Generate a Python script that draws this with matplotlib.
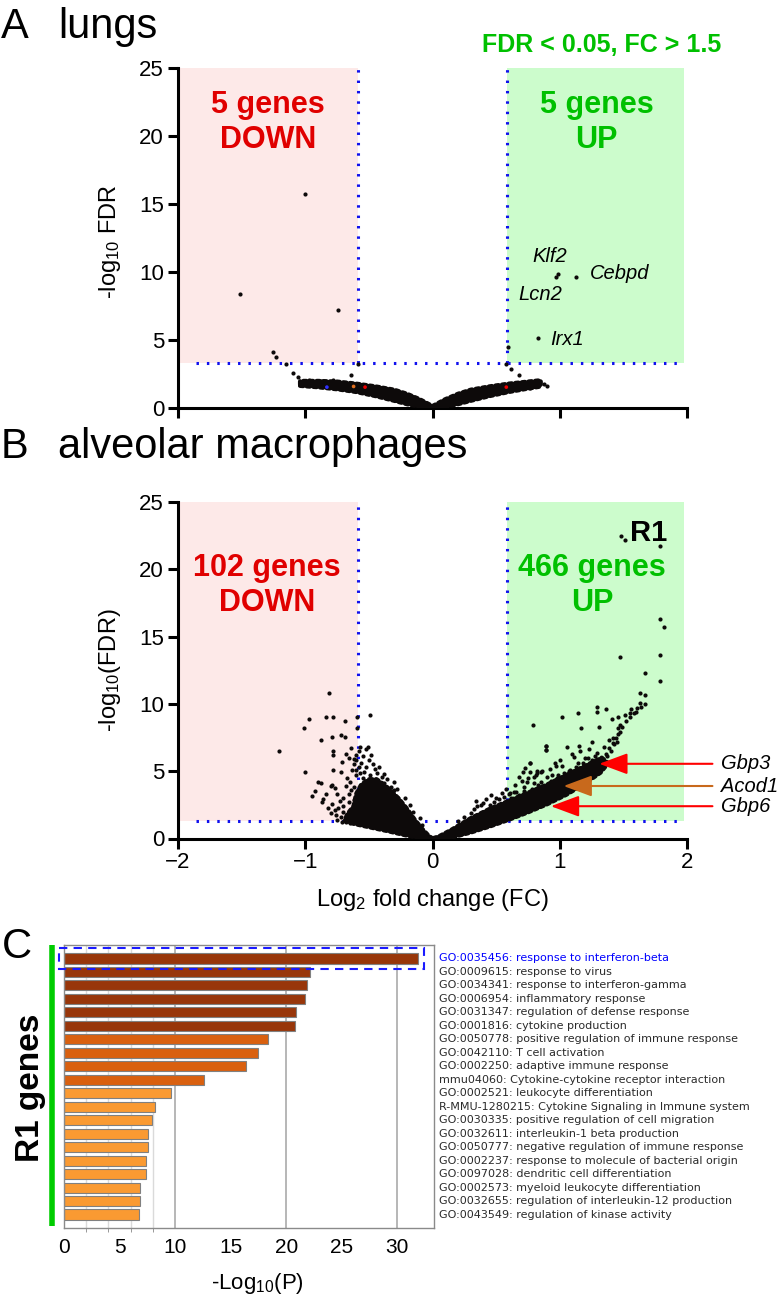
import matplotlib.pyplot as plt
from matplotlib.patches import Rectangle

plt.rcParams['font.family'] = ['Liberation Sans', 'DejaVu Sans']
plt.rcParams['mathtext.fontset'] = 'custom'
plt.rcParams['mathtext.rm'] = 'Liberation Sans'
plt.rcParams['mathtext.it'] = 'Liberation Sans:italic'

W, H = 779, 1301

fc_cut = 0.585      # log2(1.5)
thr_a = 3.25        # FDR cut, panel A
thr_b = 1.3         # FDR cut, panel B

# ---------------- panel A: lungs ----------------
a_core_x = [-1.04, -0.9, -0.75, -0.6, -0.45, -0.3, -0.2, -0.1, 0.0,
            0.1, 0.2, 0.3, 0.45, 0.6, 0.75, 0.85]
a_core_lo = [1.6, 1.5, 1.35, 1.15, 0.85, 0.5, 0.25, 0.05, 0.0,
             0.05, 0.25, 0.5, 0.85, 1.15, 1.4, 1.55]
a_core_hi = [1.95, 1.95, 1.9, 1.75, 1.55, 1.3, 1.0, 0.6, 0.1,
             0.6, 1.0, 1.3, 1.55, 1.75, 1.9, 2.0]
a_x = [-1.51, -1.0, -0.745, -1.257, -1.23, -1.15, -0.588, -1.10, -1.06, -0.644,
       -1.04, -0.97, -0.88, -0.78,
       0.974, 0.985, 1.131, 0.83, 0.594, 0.581, 0.62, 0.683,
       0.76, 0.77, 0.82, 0.88, 0.9]
a_y = [8.38, 15.72, 7.2, 4.06, 3.75, 3.19, 3.19, 2.52, 2.27, 2.39,
       1.9, 2.0, 1.95, 2.05,
       9.63, 9.81, 9.59, 5.14, 4.48, 3.2, 2.83, 2.36,
       1.8, 1.45, 1.6, 1.75, 1.6]
a_col_x = [-0.83, -0.62, -0.53, 0.58]
a_col_y = [1.5, 1.55, 1.5, 1.5]
a_col_c = ['#3030ff', '#e07020', '#ee0000', '#ee0000']
a_genes = ['Klf2', 'Lcn2', 'Cebpd', 'Irx1']

# ---------------- panel B: alveolar macrophages ----------------
b_left_core_x = [0.0, -0.1, -0.2, -0.35, -0.5, -0.62, -0.69, -0.67, -0.62, -0.6,
                 -0.56, -0.5, -0.44, -0.38, -0.32, -0.26, -0.2, -0.14, -0.08, -0.03]
b_left_core_y = [0.0, 0.03, 0.22, 0.55, 0.85, 1.1, 1.3, 1.8, 2.4, 3.3,
                 4.0, 4.4, 4.4, 4.0, 3.5, 2.9, 2.2, 1.4, 0.7, 0.2]
b_right_core_x = [0.0, 0.15, 0.3, 0.45, 0.6, 0.75, 0.9, 1.05, 1.2, 1.32, 1.38,
                  1.33, 1.2, 1.05, 0.9, 0.75, 0.6, 0.45, 0.3, 0.15, 0.05]
b_right_core_y = [0.0, 0.08, 0.45, 0.9, 1.4, 1.95, 2.55, 3.25, 4.1, 4.9, 5.6,
                  6.0, 5.4, 4.7, 4.0, 3.4, 2.8, 2.2, 1.5, 0.65, 0.15]

b_x = [-0.81, -0.97, -0.84, -0.78, -0.69, -1.01, -0.49, -0.59, -0.59, -0.88,
       -0.79, -0.72, -0.69, -1.21, -0.78, -0.78, -0.64, -0.51, -0.52, -1.0,
       -0.78, -0.90, -0.88, -0.79, -0.77, -0.95, -0.86, -0.87, -0.8, -0.79,
       -0.77, -0.76, -0.71, -0.68, -0.57, -0.72, -0.67, -0.64, -0.62, -0.64,
       -0.72, -0.69, -0.54, -0.49, -0.44, -0.38, -0.33, -0.41, -0.35, -0.32,
       -0.66, -0.62, -0.6, -0.58, -0.56, -0.63, -0.6, -0.55, -0.52, -0.47,
       -0.45, -0.4, -0.36, -0.3, -0.27, -0.25, -0.22, -0.7, -0.7, -0.73,
       -0.66, -0.68, -0.75, -0.71, -0.68, -0.65,
       -0.6, -0.58, -0.62, -0.55, -0.6, -0.57, -0.65, -0.62, -0.66, -0.7,
       -0.74, -0.8, -0.82, -0.84, -0.92, -0.75, -0.5, -0.48, -0.42, -0.38,
       -0.3, -0.28, -0.22, -0.18, -0.15, -0.1, -0.08,
       1.485, 1.51, 1.79, 1.79, 1.82, 1.47, 1.79, 1.67, 1.79, 1.63,
       1.67, 1.67, 1.64, 1.56, 1.6, 1.55, 1.51, 1.46, 1.41, 1.31,
       1.36, 1.29, 1.29, 1.146, 1.02, 0.79, 1.17, 1.46, 1.47, 1.46,
       1.42, 1.39, 1.35, 0.89, 0.89, 1.06, 1.16, 1.23, 1.29, 0.77,
       0.73, 0.77, 0.82, 0.81, 0.96, 1.02, 0.9, 0.94, 1.11, 1.14,
       1.22, 1.07, 0.99, 0.72, 0.66, 0.61, 0.85,
       0.34, 0.4, 0.48, 0.56, 0.64, 0.71, 0.77, 0.82, 0.85, 0.89,
       0.89, 0.74, 0.8, 0.85, 0.9,
       1.33, 1.36, 1.39, 1.42, 1.44, 1.47, 1.49, 1.52, 1.55, 1.58,
       1.61, 1.63, 1.43, 1.45, 1.37, 1.4,
       0.35, 0.45, 0.52, 0.5, 0.62, 0.68, 0.72, 0.78, 0.83, 0.93,
       0.98, 1.03, 1.08, 1.13, 1.18, 1.25, 1.28, 1.2,
       0.2, 0.25, 0.3, 0.33, 0.38, 0.42, 0.46, 0.5, 0.55, 0.58,
       0.6, 0.65, 0.7, 0.75, 0.8, 0.86, 0.92, 0.97, 1.0, 1.1,
       1.15, 1.25, 0.68]
b_y = [10.8, 8.86, 8.99, 8.99, 8.74, 8.19, 9.15, 8.99, 8.19, 7.32,
       7.57, 7.7, 7.52, 6.51, 6.53, 6.21, 6.75, 6.83, 6.63, 4.92,
       5.09, 4.22, 4.1, 3.97, 3.73, 3.16, 2.9, 2.74, 3.9, 2.6,
       2.12, 1.75, 5.7, 6.3, 6.83, 4.97, 4.47, 3.6, 2.86, 2.12,
       1.62, 1.43, 4.97, 4.72, 4.85, 4.1, 3.85, 3.6, 3.35, 3.1,
       6.0, 5.5, 5.8, 5.3, 5.6, 5.1, 4.7, 4.5, 5.3, 5.5,
       5.2, 4.6, 4.4, 3.6, 3.0, 2.6, 2.2, 2.4, 3.0, 2.8,
       3.3, 3.9, 1.4, 1.25, 1.2, 1.15,
       6.2, 6.5, 5.9, 6.1, 5.1, 4.9, 4.2, 3.8, 2.7, 2.0,
       2.3, 1.9, 2.3, 3.3, 3.5, 3.3, 5.8, 6.2, 5.3, 4.8,
       4.2, 3.7, 3.0, 2.5, 2.0, 1.5, 1.0,
       22.44, 22.2, 21.75, 16.3, 15.75, 13.52, 13.64, 12.33, 11.73, 10.79,
       10.67, 10.0, 9.8, 9.6, 9.38, 9.31, 9.18, 9.0, 8.91, 8.31,
       9.6, 9.8, 9.43, 9.31, 9.06, 8.44, 8.24, 8.19, 8.44, 7.8,
       7.45, 7.32, 6.82, 6.9, 6.58, 6.82, 6.53, 6.65, 6.33, 5.64,
       5.26, 4.97, 5.04, 4.72, 5.59, 5.41, 4.6, 4.72, 6.08, 5.59,
       5.96, 5.0, 4.75, 3.85, 3.47, 3.35, 4.21,
       2.79, 2.62, 2.74, 3.11, 3.48, 4.97, 5.6, 4.85, 4.97, 6.87,
       6.58, 4.23, 4.1, 3.85, 3.35,
       5.9, 6.3, 6.7, 7.1, 7.5, 7.9, 8.3, 8.7, 9.0, 9.3,
       9.7, 10.1, 7.0, 7.2, 6.1, 6.5,
       2.4, 2.5, 2.9, 2.3, 3.0, 3.2, 3.5, 3.7, 4.0, 4.3,
       4.5, 4.9, 5.1, 5.3, 5.6, 5.8, 6.1, 6.0,
       1.3, 1.6, 1.9, 2.2, 2.5, 2.9, 3.2, 3.0, 3.4, 3.7,
       3.3, 4.0, 4.3, 4.5, 4.6, 5.0, 5.2, 5.4, 5.8, 6.3,
       6.9, 7.2, 4.6]

arrow_genes = ['Gbp3', 'Acod1', 'Gbp6']
arrow_x = [1.31, 1.03, 0.93]
arrow_y = [5.55, 3.9, 2.4]
arrow_col = ['#ff0000', '#c8691c', '#ff0000']

# ---------------- panel C: enrichment of R1 genes ----------------
go_terms = [
    'GO:0035456: response to interferon-beta',
    'GO:0009615: response to virus',
    'GO:0034341: response to interferon-gamma',
    'GO:0006954: inflammatory response',
    'GO:0031347: regulation of defense response',
    'GO:0001816: cytokine production',
    'GO:0050778: positive regulation of immune response',
    'GO:0042110: T cell activation',
    'GO:0002250: adaptive immune response',
    'mmu04060: Cytokine-cytokine receptor interaction',
    'GO:0002521: leukocyte differentiation',
    'R-MMU-1280215: Cytokine Signaling in Immune system',
    'GO:0030335: positive regulation of cell migration',
    'GO:0032611: interleukin-1 beta production',
    'GO:0050777: negative regulation of immune response',
    'GO:0002237: response to molecule of bacterial origin',
    'GO:0097028: dendritic cell differentiation',
    'GO:0002573: myeloid leukocyte differentiation',
    'GO:0032655: regulation of interleukin-12 production',
    'GO:0043549: regulation of kinase activity',
]
go_logp = [31.9, 22.1, 21.9, 21.7, 20.9, 20.8, 18.4, 17.5, 16.4, 12.6,
           9.64, 8.2, 7.96, 7.6, 7.6, 7.4, 7.4, 6.87, 6.8, 6.72]
go_group = [0] * 6 + [1] * 4 + [2] * 10
group_col = ['#98360a', '#d9600f', '#fa9a32']

pink = '#fde9e8'
green_bg = '#ccfccc'
red_txt = '#e00000'
green_txt = '#00c000'
blue_dot = '#1010ee'
ink = '#0d0a0a'


def rect(l, t, r, b):
    return [l / W, 1 - b / H, (r - l) / W, (b - t) / H]


def volcano_axes(ax, thr):
    ax.set_xlim(-2, 2)
    ax.set_ylim(0, 25)
    for s in ['top', 'right']:
        ax.spines[s].set_visible(False)
    for s in ['left', 'bottom']:
        ax.spines[s].set_linewidth(2.2)
    ax.tick_params(width=2.2, length=7, labelsize=16, pad=3)
    ax.set_xticks([-2, -1, 0, 1, 2])
    ax.set_yticks([0, 5, 10, 15, 20, 25])
    ax.fill_between([-2, -fc_cut], thr, 25, color=pink, lw=0, zorder=0)
    ax.fill_between([fc_cut, 1.98], thr, 25, color=green_bg, lw=0, zorder=0)
    dots = dict(color=blue_dot, lw=2.2, linestyle=(0, (0.8, 2.6)), zorder=2)
    ax.plot([-1.86, 1.92], [thr, thr], **dots)
    ax.plot([-fc_cut, -fc_cut], [thr, 25], **dots)
    ax.plot([fc_cut, fc_cut], [thr, 25], **dots)


def cloud(ax, xs, ys):
    # dense point mass: solid body with a speckled rim
    ax.fill(xs, ys, color=ink, lw=0, zorder=3)
    ax.plot(list(xs) + [xs[0]], list(ys) + [ys[0]], color=ink, lw=3.2,
            linestyle=(0, (0.7, 0.8)), dash_capstyle='round', zorder=3)


fig = plt.figure(figsize=(W / 100, H / 100), dpi=100)

# ---- A ----
ax_a = fig.add_axes(rect(178, 68, 687, 407.5))
volcano_axes(ax_a, thr_a)
ax_a.set_xticklabels([])
cloud(ax_a, a_core_x + a_core_x[::-1], a_core_lo + a_core_hi[::-1])
ax_a.scatter(a_x, a_y, s=9, color=ink, lw=0, zorder=4)
ax_a.scatter(a_col_x, a_col_y, s=7, color=a_col_c, lw=0, zorder=5)
for g, gx, gy in zip(a_genes, [0.92, 0.845, 1.47, 1.06], [11.1, 8.3, 9.9, 5.0]):
    ax_a.text(gx, gy, g, style='italic', fontsize=14.5, ha='center', va='center')
ax_a.text(-1.29, 21.0, '5 genes\nDOWN', color=red_txt, fontsize=22,
          fontweight='bold', ha='center', va='center')
ax_a.text(1.29, 21.0, '5 genes\nUP', color=green_txt, fontsize=22,
          fontweight='bold', ha='center', va='center')

fig.text(1 / W, 1 - 38 / H, 'A', fontsize=30, va='baseline')
fig.text(58 / W, 1 - 38 / H, 'lungs', fontsize=30, va='baseline')
fig.text(602 / W, 1 - 45 / H, 'FDR < 0.05, FC > 1.5', color=green_txt,
         fontsize=18, fontweight='bold', ha='center', va='center')
fig.text(110 / W, 1 - 242 / H, r'-log$_{\mathregular{10}}$ FDR', fontsize=17,
         rotation=90, ha='center', va='center')

# ---- B ----
ax_b = fig.add_axes(rect(178, 502, 687, 838.5))
volcano_axes(ax_b, thr_b)
cloud(ax_b, b_left_core_x, b_left_core_y)
cloud(ax_b, b_right_core_x, b_right_core_y)
ax_b.scatter(b_x, b_y, s=9, color=ink, lw=0, zorder=4)
ax_b.text(-1.3, 18.8, '102 genes\nDOWN', color=red_txt, fontsize=22,
          fontweight='bold', ha='center', va='center')
ax_b.text(1.255, 18.8, '466 genes\nUP', color=green_txt, fontsize=22,
          fontweight='bold', ha='center', va='center')
ax_b.text(1.70, 22.7, 'R1', fontsize=21, fontweight='bold', ha='center',
          va='center', zorder=6)
for g, gx, gy, c in zip(arrow_genes, arrow_x, arrow_y, arrow_col):
    ax_b.annotate('', xy=(gx, gy), xytext=(2.2, gy),
                  arrowprops=dict(arrowstyle='-|>,head_length=1.75,head_width=0.65',
                                  color=c, lw=1.5, shrinkA=0, shrinkB=0,
                                  mutation_scale=10),
                  annotation_clip=False, zorder=6)
    ax_b.text(2.27, gy, g, style='italic', fontsize=14.5, ha='left',
              va='center', clip_on=False)

fig.text(1 / W, 1 - 458 / H, 'B', fontsize=30, va='baseline')
fig.text(58 / W, 1 - 458 / H, 'alveolar macrophages', fontsize=30, va='baseline')
fig.text(110 / W, 1 - 670 / H, r'-log$_{\mathregular{10}}$(FDR)', fontsize=17,
         rotation=90, ha='center', va='center')
fig.text(432 / W, 1 - 900 / H, r'Log$_{\mathregular{2}}$ fold change (FC)',
         fontsize=17, ha='center', va='center')

# ---- C ----
ax_c = fig.add_axes(rect(64, 945, 434, 1228))
ypos = list(range(len(go_terms)))
for gx in [2, 4, 6, 8]:
    ax_c.axvline(gx, color='#dadada', lw=1.0, zorder=0)
for gx in [10, 20, 30]:
    ax_c.axvline(gx, color='#aaaaaa', lw=1.2, zorder=0)
ax_c.barh(ypos, go_logp, height=0.75, color=[group_col[g] for g in go_group],
          edgecolor='#808080', lw=0.8, zorder=2)
ax_c.set_xlim(0, 33.3)
ax_c.set_ylim(20.0, -1.0)
ax_c.set_yticks([])
ax_c.set_xticks([0, 5, 10, 15, 20, 25, 30])
ax_c.set_xticks([0, 2, 4, 6, 8, 10, 20, 30], minor=True)
ax_c.tick_params(axis='x', which='major', length=0, labelsize=15, pad=7)
ax_c.tick_params(axis='x', which='minor', length=3, color='#888888')
for s in ax_c.spines.values():
    s.set_color('#8a8a8a')
    s.set_linewidth(1.0)
ax_c.add_patch(Rectangle((-0.45, -0.78), 32.85, 1.56, fill=False,
                         edgecolor='#1a1aff', lw=1.5, ls=(0, (4, 3)),
                         clip_on=False, zorder=5))
ax_c.plot([-0.032, -0.032], [-1.0, 19.85], color='#00cc00', lw=4,
          transform=ax_c.get_yaxis_transform(), clip_on=False,
          solid_capstyle='butt')
for i, term in enumerate(go_terms):
    ax_c.text(1.0135, i, term, fontsize=8.0, family='DejaVu Sans',
              color='#0000ff' if i == 0 else '#2a2a2a', ha='left', va='center',
              transform=ax_c.get_yaxis_transform(), clip_on=False)

fig.text(2 / W, 1 - 958 / H, 'C', fontsize=30, va='baseline')
fig.text(30 / W, 1 - 1088 / H, 'R1 genes', fontsize=24, fontweight='bold',
         rotation=90, ha='center', va='center')
fig.text(257 / W, 1 - 1283 / H, r'-Log$_{\mathregular{10}}$(P)', fontsize=16,
         ha='center', va='center')

fig.savefig('out.png', dpi=100)
